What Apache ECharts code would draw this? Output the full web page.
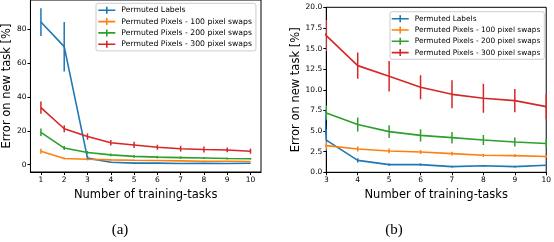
<!DOCTYPE html>
<html>
<head>
<meta charset="utf-8">
<script src="https://cdn.jsdelivr.net/npm/echarts@6/dist/echarts.min.js"></script>
<style>html,body{margin:0;padding:0;background:#fff}#c{width:554px;height:242px}</style>
</head>
<body>
<div id="c"></div>
<script>
// ---- data ----
const tasks = [1, 2, 3, 4, 5, 6, 7, 8, 9, 10];
const seriesNames = ['Permuted Labels', 'Permuted Pixels - 100 pixel swaps', 'Permuted Pixels - 200 pixel swaps', 'Permuted Pixels - 300 pixel swaps'];
const labelsMean = [84.1, 69.6, 3.9, 1.45, 0.93, 0.93, 0.69, 0.8, 0.69, 0.85];
const labelsErr  = [8.2, 14.6, 1.3, 0.25, 0.15, 0.15, 0.1, 0.1, 0.1, 0.1];
const p100Mean = [7.9, 3.7, 3.23, 2.83, 2.59, 2.46, 2.26, 2.06, 2.02, 1.92];
const p100Err  = [1.5, 0.5, 0.45, 0.3, 0.28, 0.25, 0.22, 0.2, 0.18, 0.15];
const p200Mean = [19.1, 9.8, 7.2, 5.8, 4.93, 4.48, 4.2, 3.92, 3.68, 3.5];
const p200Err  = [2.2, 1.2, 0.9, 0.85, 0.77, 0.75, 0.7, 0.6, 0.55, 0.5];
const p300Mean = [33.6, 21.2, 16.57, 12.93, 11.64, 10.3, 9.45, 8.97, 8.69, 7.96];
const p300Err  = [3.6, 2.0, 1.9, 1.6, 1.85, 1.45, 1.7, 1.75, 1.4, 1.5];
const yTicksA = [0, 20, 40, 60, 80];
const xTicksA = [1, 2, 3, 4, 5, 6, 7, 8, 9, 10];
const captions = ['(a)', '(b)'];

const means = [labelsMean, p100Mean, p200Mean, p300Mean];
const errs = [labelsErr, p100Err, p200Err, p300Err];
const colors = ['#1f77b4', '#ff7f0e', '#2ca02c', '#d62728'];
const FONT = 'DejaVu Sans';

const chart = echarts.init(document.getElementById('c'), null, {renderer: 'canvas'});

function errSeries(gi, si) {
  const data = tasks.map((x, i) => [x, means[si][i] - errs[si][i], means[si][i] + errs[si][i]]);
  return {
    type: 'custom', name: seriesNames[si], xAxisIndex: gi, yAxisIndex: gi, clip: true,
    data: data, silent: true,
    renderItem: function (params, api) {
      const p1 = api.coord([api.value(0), api.value(1)]);
      const p2 = api.coord([api.value(0), api.value(2)]);
      return {type: 'line', shape: {x1: p1[0], y1: p1[1], x2: p2[0], y2: p2[1]},
        style: {stroke: colors[si], lineWidth: 1.5}};
    }
  };
}
function lineSeries(gi, si) {
  return {
    type: 'line', name: seriesNames[si], xAxisIndex: gi, yAxisIndex: gi,
    data: tasks.map((x, i) => [x, means[si][i]]),
    showSymbol: false, symbol: 'none', clip: true,
    lineStyle: {color: colors[si], width: 1.6}, itemStyle: {color: colors[si]},
    animation: false
  };
}
const series = [];
for (let gi = 0; gi < 2; gi++) {
  for (let si = 0; si < 4; si++) {
    series.push(lineSeries(gi, si));
    series.push(errSeries(gi, si));
  }
}
const icon = 'path://M0,2.7H17V4.3H0Z M7.7,0H9.3V7H7.7Z';
function legend(left, top, pad, font) {
  return {
    data: seriesNames.map((n, i) => ({name: n, icon: icon, itemStyle: {color: colors[i]}})),
    orient: 'vertical', left: left, top: top, padding: pad,
    itemWidth: 17, itemHeight: 7, itemGap: 3.3,
    backgroundColor: 'rgba(255,255,255,0.8)', borderColor: '#cccccc', borderWidth: 1, borderRadius: 2,
    textStyle: {fontFamily: FONT, fontSize: font, color: '#000', lineHeight: 8, padding: [0, 0, 0, 1]},
    selectedMode: false
  };
}
const axisCommon = {
  axisLine: {show: true, onZero: false, lineStyle: {color: '#000', width: 1}},
  axisTick: {show: true, length: 3, lineStyle: {color: '#000'}},
  splitLine: {show: false},
  nameTextStyle: {fontFamily: FONT, fontSize: 11.5, color: '#000'}
};
const TICKFS = 7.5;
const option = {
  animation: false,
  backgroundColor: '#fff',
  grid: [
    {left: 30, top: 0, right: 293, bottom: 70, show: true, borderColor: '#000', borderWidth: 1, containLabel: false},
    {left: 326.3, top: 7.3, right: 5.3, bottom: 69.7, show: true, borderColor: '#000', borderWidth: 1, containLabel: false}
  ],
  legend: [legend(96, 3.3, [3, 4, 2.7, 2.3], 7.7), legend(390, 11.7, [3, 4, 2.7, 1.7], 7.4)],
  xAxis: [
    Object.assign({}, axisCommon, {gridIndex: 0, type: 'value', min: 0.55, max: 10.45,
      name: 'Number of training-tasks', nameLocation: 'middle', nameGap: 13.5,
      axisTick: {show: true, length: 3, customValues: xTicksA, lineStyle: {color: '#000'}},
      axisLabel: {customValues: xTicksA, fontFamily: FONT, fontSize: TICKFS, color: '#000', margin: 4}}),
    Object.assign({}, axisCommon, {gridIndex: 1, type: 'value', min: 3, max: 10, interval: 1,
      name: 'Number of training-tasks', nameLocation: 'middle', nameGap: 13.5,
      axisLabel: {fontFamily: FONT, fontSize: TICKFS, color: '#000', margin: 4, showMinLabel: true, showMaxLabel: true}})
  ],
  yAxis: [
    Object.assign({}, axisCommon, {gridIndex: 0, type: 'value', min: -4.3, max: 97.1,
      name: 'Error on new task [%]', nameLocation: 'middle', nameGap: 14.5,
      axisTick: {show: true, length: 3, customValues: yTicksA, lineStyle: {color: '#000'}},
      axisLabel: {customValues: yTicksA, fontFamily: FONT, fontSize: TICKFS, color: '#000', margin: 4}}),
    Object.assign({}, axisCommon, {gridIndex: 1, type: 'value', min: 0, max: 20, interval: 2.5,
      name: 'Error on new task [%]', nameLocation: 'middle', nameGap: 23.5,
      axisLabel: {fontFamily: FONT, fontSize: TICKFS, color: '#000', margin: 4, formatter: v => v.toFixed(1)}})
  ],
  graphic: [
    {type: 'text', style: {text: captions[0], font: '15px "Liberation Serif"', fill: '#000', align: 'center', verticalAlign: 'middle'}, x: 120, y: 230},
    {type: 'text', style: {text: captions[1], font: '15px "Liberation Serif"', fill: '#000', align: 'center', verticalAlign: 'middle'}, x: 394, y: 230}
  ],
  series: series
};
chart.setOption(option);
</script>
</body>
</html>
